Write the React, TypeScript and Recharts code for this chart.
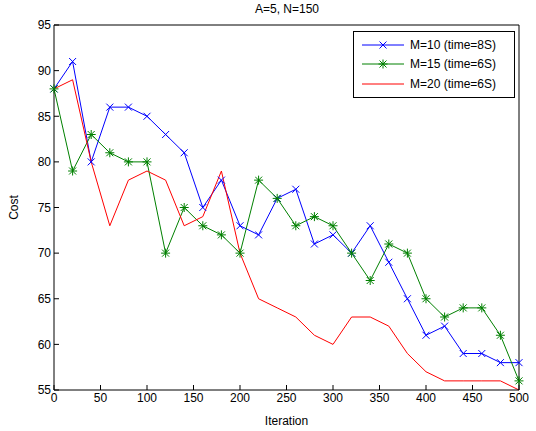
import { Line, LineChart, XAxis, YAxis } from "recharts";

const ITERATIONS = [0, 20, 40, 60, 80, 100, 120, 140, 160, 180, 200, 220, 240, 260, 280, 300, 320, 340, 360, 380, 400, 420, 440, 460, 480, 500];
const M10 = [88, 91, 80, 86, 86, 85, 83, 81, 75, 78, 73, 72, 76, 77, 71, 72, 70, 73, 69, 65, 61, 62, 59, 59, 58, 58];
const M15 = [88, 79, 83, 81, 80, 80, 70, 75, 73, 72, 70, 78, 76, 73, 74, 73, 70, 67, 71, 70, 65, 63, 64, 64, 61, 56];
const M20 = [88, 89, 80, 73, 78, 79, 78, 73, 74, 79, 70, 65, 64, 63, 61, 60, 63, 63, 62, 59, 57, 56, 56, 56, 56, 55];
const X_TICKS = [0, 50, 100, 150, 200, 250, 300, 350, 400, 450, 500];
const Y_TICKS = [55, 60, 65, 70, 75, 80, 85, 90, 95];

const SERIES = [
  { key: "m10", name: "M=10 (time=8S)", color: "#0000ff", marker: "x" },
  { key: "m15", name: "M=15 (time=6S)", color: "#008000", marker: "star" },
  { key: "m20", name: "M=20 (time=6S)", color: "#ff0000", marker: "none" },
];

const data = ITERATIONS.map((it, i) => ({ it, m10: M10[i], m15: M15[i], m20: M20[i] }));

const FONT = "'Liberation Sans', Arial, sans-serif";
const TICK = { fontSize: 12, fill: "#000", fontFamily: FONT };

function Marker({ cx, cy, kind, color }: { cx: number; cy: number; kind: string; color: string }) {
  if (kind === "none" || cx == null || cy == null) return null;
  const r = 3.5;
  const cross = (
    <>
      <line x1={cx - r} y1={cy - r} x2={cx + r} y2={cy + r} stroke={color} strokeWidth={1} />
      <line x1={cx - r} y1={cy + r} x2={cx + r} y2={cy - r} stroke={color} strokeWidth={1} />
    </>
  );
  if (kind === "x") return <g>{cross}</g>;
  const p = 4.5;
  return (
    <g>
      {cross}
      <line x1={cx - p} y1={cy} x2={cx + p} y2={cy} stroke={color} strokeWidth={1} />
      <line x1={cx} y1={cy - p} x2={cx} y2={cy + p} stroke={color} strokeWidth={1} />
    </g>
  );
}

function LegendBox() {
  return (
    <div
      style={{
        position: "absolute",
        top: 31,
        left: 353,
        border: "1px solid #000",
        background: "#fff",
        width: 162,
        padding: "3px 0",
        fontFamily: FONT,
        fontSize: 12,
        boxSizing: "border-box",
      }}
    >
      {SERIES.map((s) => (
        <div key={s.key} style={{ display: "flex", alignItems: "center", height: 19.5 }}>
          <svg width={56} height={12} style={{ flex: "none" }}>
            <line x1={8} y1={6} x2={50} y2={6} stroke={s.color} strokeWidth={1} />
            <Marker cx={29} cy={6} kind={s.marker} color={s.color} />
          </svg>
          <span>{s.name}</span>
        </div>
      ))}
    </div>
  );
}

export default function App() {
  return (
    <div style={{ position: "absolute", left: 0, top: 0, width: 536, height: 431, background: "#fff" }}>
      <LineChart width={536} height={431} data={data} margin={{ top: 24, right: 16, left: 0, bottom: 0 }}>
        <XAxis
          dataKey="it"
          type="number"
          domain={[0, 500]}
          ticks={X_TICKS}
          tick={TICK}
          tickSize={-5}
          tickMargin={8}
          height={41}
          stroke="#000"
          interval={0}
          label={{ value: "Iteration", position: "insideBottom", offset: 6, style: TICK }}
        />
        <XAxis
          xAxisId="top"
          dataKey="it"
          orientation="top"
          type="number"
          domain={[0, 500]}
          ticks={X_TICKS}
          tick={false}
          tickSize={-5}
          height={1}
          stroke="#000"
          interval={0}
        />
        <YAxis
          type="number"
          domain={[55, 95]}
          ticks={Y_TICKS}
          tick={TICK}
          tickSize={-5}
          tickMargin={8}
          width={54}
          stroke="#000"
          interval={0}
          label={{ value: "Cost", angle: -90, position: "insideLeft", offset: 14, style: { ...TICK, textAnchor: "middle" } }}
        />
        <YAxis
          yAxisId="right"
          orientation="right"
          type="number"
          domain={[55, 95]}
          ticks={Y_TICKS}
          tick={false}
          tickSize={-5}
          width={1}
          stroke="#000"
          interval={0}
        />
        {SERIES.map((s) => (
          <Line
            key={s.key}
            dataKey={s.key}
            name={s.name}
            stroke={s.color}
            strokeWidth={1}
            type="linear"
            isAnimationActive={false}
            dot={(props: any) => <Marker key={`${s.key}-${props.index}`} cx={props.cx} cy={props.cy} kind={s.marker} color={s.color} />}
            activeDot={false}
          />
        ))}
      </LineChart>
      <LegendBox />
      <div
        style={{
          position: "absolute",
          top: 2,
          left: 54,
          width: 466,
          textAlign: "center",
          fontFamily: FONT,
          fontSize: 12,
        }}
      >
        A=5, N=150
      </div>
    </div>
  );
}
